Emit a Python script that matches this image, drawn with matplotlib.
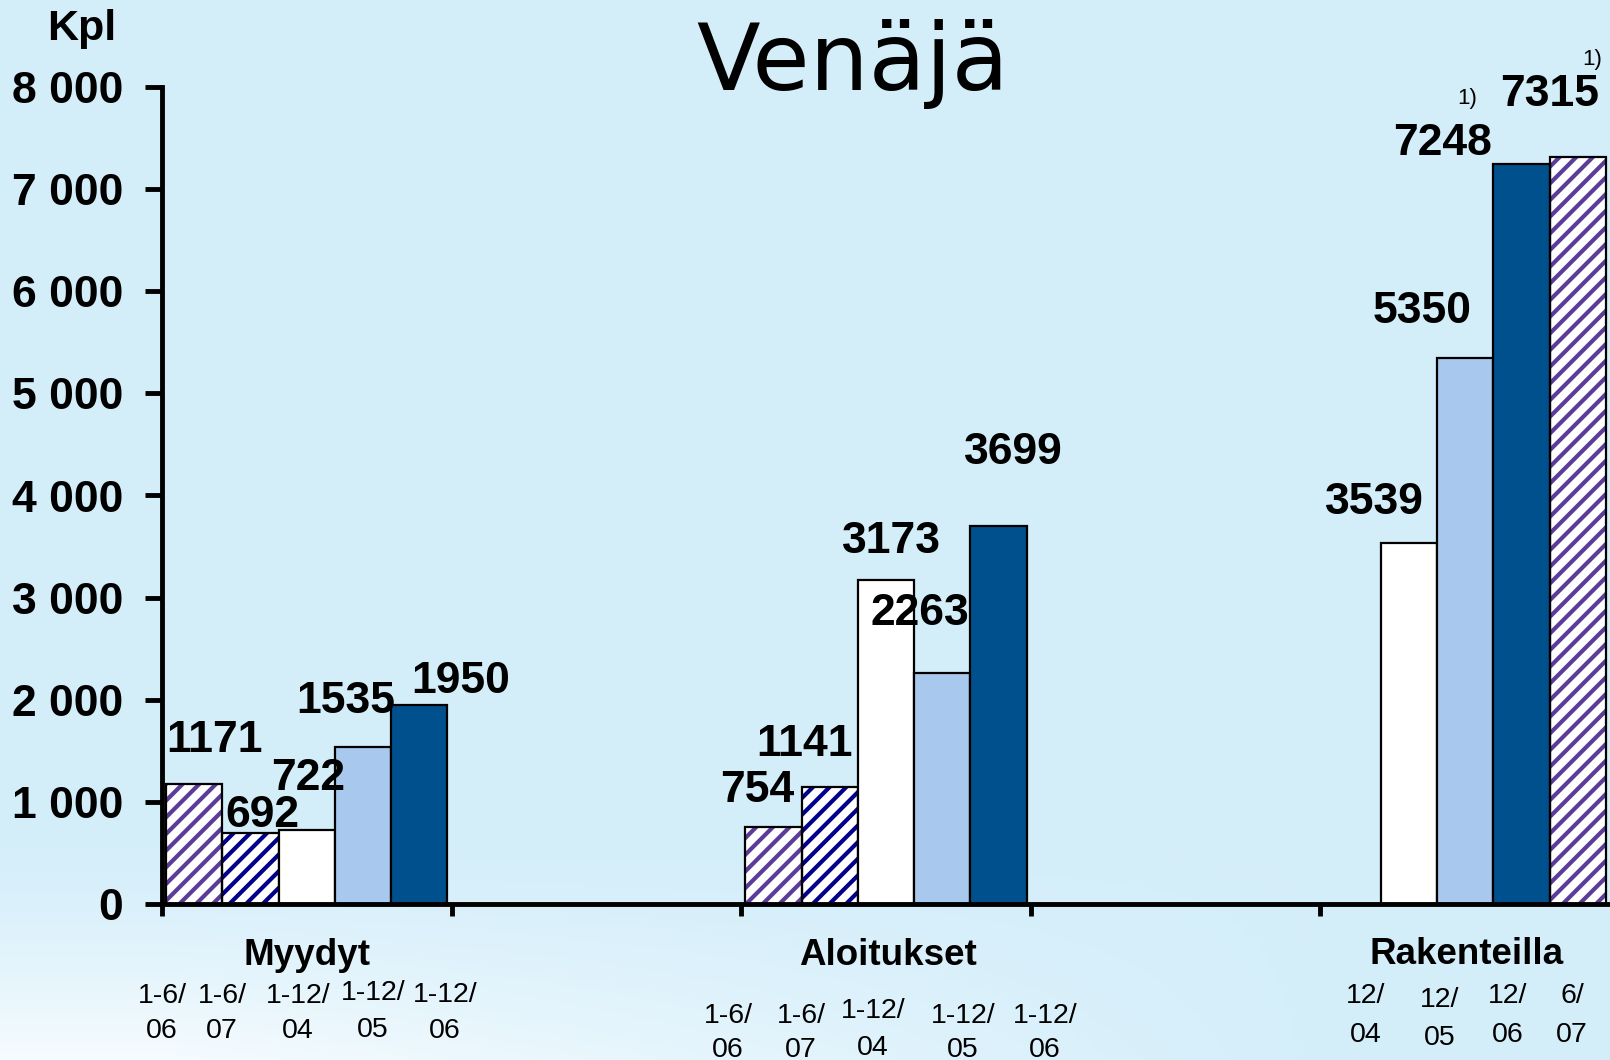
import numpy as np
import matplotlib.pyplot as plt

plt.rcParams['font.family'] = ['Liberation Sans', 'DejaVu Sans']
plt.rcParams['hatch.linewidth'] = 3.0

W, H = 1610, 1060

# data
categories = ['Myydyt', 'Aloitukset', 'Rakenteilla']
myydyt = [1171, 692, 722, 1535, 1950]
aloitukset = [754, 1141, 3173, 2263, 3699]
rakenteilla = [3539, 5350, 7248, 7315]

myydyt_periods = [('1-6/', '06'), ('1-6/', '07'), ('1-12/', '04'), ('1-12/', '05'), ('1-12/', '06')]
aloitukset_periods = [('1-6/', '06'), ('1-6/', '07'), ('1-12/', '04'), ('1-12/', '05'), ('1-12/', '06')]
rakenteilla_periods = [('12/', '04'), ('12/', '05'), ('12/', '06'), ('6/', '07')]

yticks = list(range(0, 8001, 1000))

# styles
styles = {
    'purple': ('white', '//', '#5b3c98'),
    'navy': ('white', '//', '#00008a'),
    'white': ('white', None, None),
    'light': ('#a8c8ee', None, None),
    'dark': ('#00508e', None, None),
}
myydyt_style = ['purple', 'navy', 'white', 'light', 'dark']
aloitukset_style = ['purple', 'navy', 'white', 'light', 'dark']
rakenteilla_style = ['white', 'light', 'dark', 'purple']

slot = 0.1943
margin = 0.014

# value label positions (data coords, baseline)
myydyt_lab = [(0.183, 1489), (0.345, 754), (0.504, 1117), (0.635, 1871), (1.032, 2067)]
aloitukset_lab = [(2.055, 999), (2.220, 1450), (2.520, 3438), (2.617, 2733), (2.939, 4310)]
rakenteilla_lab = [(4.188, 3820), (4.351, 5691), (4.423, 7336), (4.790, 7816)]
footnote_lab = [(4.506, 7835), (4.938, 8217)]

# period label positions (figure px): x, baseline line1, baseline line2
myydyt_plab = [(162, 1003, 1038), (222, 1003, 1038), (298, 1003, 1038), (373, 1000, 1037), (445, 1002, 1038)]
aloitukset_plab = [(728, 1023, 1057), (801, 1023, 1057), (873, 1018, 1055), (963, 1023, 1057), (1045, 1023, 1057)]
rakenteilla_plab = [(1366, 1003, 1042), (1440, 1007, 1045), (1508, 1003, 1042), (1572, 1003, 1042)]
cat_plab = [(307, 965), (888, 965), (1467, 964)]


def fxy(x, y):
    return x / W, 1 - y / H


fig = plt.figure(figsize=(W / 100, H / 100), dpi=100)

# background with lighter bottom-left corner
bg = fig.add_axes([0, 0, 1, 1], zorder=-10)
yy, xx = np.mgrid[0:1:300j, 0:1:400j]
t = np.clip((yy - 0.80) / 0.20, 0, 1) ** 1.2 * np.clip(1.15 - xx * 1.4, 0, 1)
top = np.array([0.831, 0.933, 0.980])
low = np.array([0.960, 0.985, 0.998])
img = top + t[..., None] * (low - top)
bg.imshow(img, aspect='auto', extent=[0, 1, 0, 1], origin='upper')
bg.axis('off')

ax = fig.add_axes([162 / W, 1 - 904 / H, 1 - 162 / W, (904 - 87) / H])
ax.set_facecolor('none')


def draw_group(g, values, style, first=0):
    for i, (v, s) in enumerate(zip(values, style)):
        left = 2 * g + margin + (first + i) * slot
        face, hatch, hcol = styles[s]
        if hatch:
            ax.bar(left, v, width=slot, align='edge', color=face, hatch=hatch,
                   edgecolor=hcol, linewidth=0, zorder=2)
            ax.bar(left, v, width=slot, align='edge', fill=False,
                   edgecolor='black', linewidth=1.6, zorder=3)
        else:
            ax.bar(left, v, width=slot, align='edge', color=face,
                   edgecolor='black', linewidth=1.6, zorder=3)


draw_group(0, myydyt, myydyt_style)
draw_group(1, aloitukset, aloitukset_style)
draw_group(2, rakenteilla, rakenteilla_style, first=1)

for vals, labs in [(myydyt, myydyt_lab), (aloitukset, aloitukset_lab), (rakenteilla, rakenteilla_lab)]:
    for v, (x, y) in zip(vals, labs):
        ax.text(x, y, str(v), ha='center', va='baseline', fontsize=32,
                fontweight='bold', zorder=5, clip_on=False)
for x, y in footnote_lab:
    ax.text(x, y, '1)', ha='center', va='baseline', fontsize=16, zorder=5, clip_on=False)

ax.set_xlim(0, 5)
ax.set_ylim(0, 8000)
ax.set_yticks(yticks)
ax.set_yticklabels([f'{v:,}'.replace(',', ' ') for v in yticks], fontsize=32, fontweight='bold')
ax.set_xticks([0, 1, 2, 3, 4])
ax.set_xticklabels([])
ax.tick_params(axis='y', length=12, width=3.5, pad=16)
ax.tick_params(axis='x', length=8.5, width=3.5)
for side in ['top', 'right']:
    ax.spines[side].set_visible(False)
for side in ['left', 'bottom']:
    ax.spines[side].set_linewidth(3.5)
    ax.spines[side].set_zorder(4)

# category and period labels
for name, (x, y) in zip(categories, cat_plab):
    fig.text(*fxy(x, y), name, ha='center', va='baseline', fontsize=26.5, fontweight='bold')
for periods, plabs in [(myydyt_periods, myydyt_plab), (aloitukset_periods, aloitukset_plab),
                       (rakenteilla_periods, rakenteilla_plab)]:
    for (l1, l2), (x, y1, y2) in zip(periods, plabs):
        fig.text(*fxy(x, y1), l1, ha='center', va='baseline', fontsize=20.5)
        fig.text(*fxy(x, y2), l2, ha='center', va='baseline', fontsize=20.5)

fig.text(*fxy(82, 40), 'Kpl', ha='center', va='baseline', fontsize=31, fontweight='bold')
fig.text(*fxy(853, 90), 'Venäjä', ha='center', va='baseline', fontsize=67,
         family='DejaVu Sans')

fig.savefig('out.png', dpi=100)
